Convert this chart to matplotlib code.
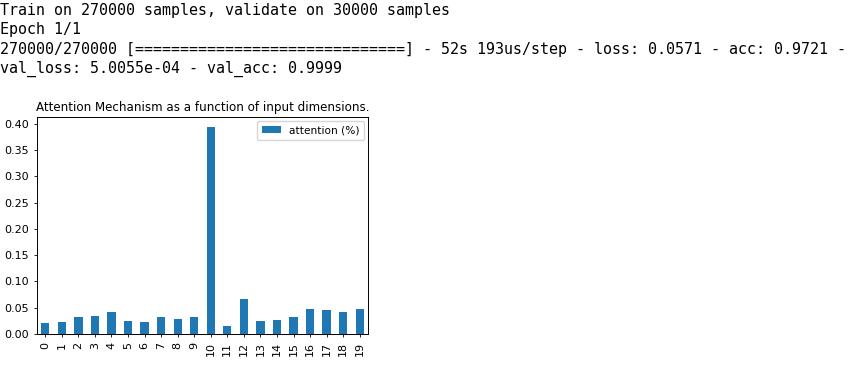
import numpy as np
import pandas as pd
import matplotlib
matplotlib.use("Agg")
import matplotlib.pyplot as plt

# console output printed above the chart
log_lines = [
    "Train on 270000 samples, validate on 30000 samples",
    "Epoch 1/1",
    "270000/270000 [==============================] - 52s 193us/step - loss: 0.0571 - acc: 0.9721 -",
    "val_loss: 5.0055e-04 - val_acc: 0.9999",
]

# attention per input dimension
dims = list(range(20))
attention = [0.020, 0.022, 0.032, 0.034, 0.042, 0.024, 0.022, 0.032, 0.028, 0.032,
             0.393, 0.016, 0.067, 0.024, 0.026, 0.032, 0.047, 0.045, 0.042, 0.047]

df = pd.DataFrame({"attention (%)": attention}, index=dims)

fig = plt.figure(figsize=(8.51, 3.82), dpi=100)

# monospace console text
for i, line in enumerate(log_lines):
    fig.text(0.0, 1 - (3 + i * 19.3) / 382, line, family="DejaVu Sans Mono",
             fontsize=10.8, va="top", ha="left", color="black")

ax = fig.add_axes([37 / 851, 48 / 382, 331 / 851, 217 / 382])
df.plot(kind="bar", ax=ax, color="#1f77b4", width=0.5)
ax.set_title("Attention Mechanism as a function of input dimensions.", fontsize=8.6, pad=4)
ax.tick_params(labelsize=8.0, length=2.5, width=0.6)
ax.legend(loc="upper right", fontsize=7.6, handlelength=1.8, borderaxespad=0.4)
for s in ax.spines.values():
    s.set_linewidth(0.7)

fig.savefig("out.png", dpi=100)
